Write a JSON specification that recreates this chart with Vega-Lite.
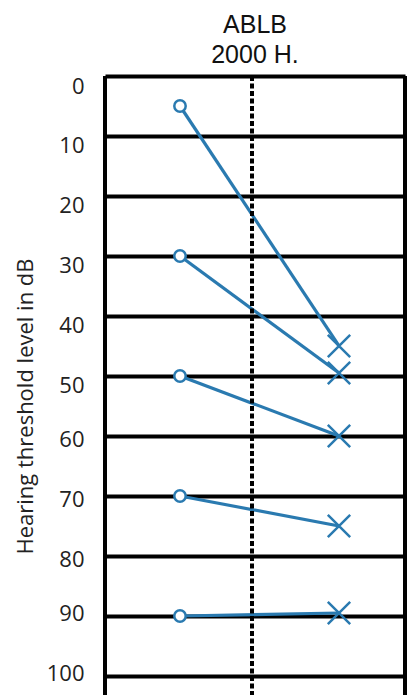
{
  "$schema": "https://vega.github.io/schema/vega-lite/v6.json",
  "width": 300,
  "height": 619,
  "autosize": {"type": "none"},
  "padding": {"left": 105, "top": 76, "right": 4, "bottom": 0},
  "background": "white",
  "title": {
    "text": ["ABLB", "2000 H."],
    "fontSize": 25,
    "fontWeight": "normal",
    "font": "Liberation Sans",
    "color": "#111",
    "lineHeight": 30,
    "offset": 6,
    "anchor": "middle"
  },
  "config": {"view": {"stroke": null}},
  "datasets": {
    "pts": [
      {"pair": 1, "ear": "left", "side": 0.25, "dB": 5},
      {"pair": 1, "ear": "right", "side": 0.78, "dB": 45},
      {"pair": 2, "ear": "left", "side": 0.25, "dB": 30},
      {"pair": 2, "ear": "right", "side": 0.78, "dB": 49.5},
      {"pair": 3, "ear": "left", "side": 0.25, "dB": 50},
      {"pair": 3, "ear": "right", "side": 0.78, "dB": 60},
      {"pair": 4, "ear": "left", "side": 0.25, "dB": 70},
      {"pair": 4, "ear": "right", "side": 0.78, "dB": 75},
      {"pair": 5, "ear": "left", "side": 0.25, "dB": 90},
      {"pair": 5, "ear": "right", "side": 0.78, "dB": 89.5}
    ],
    "borders": [{"b": 0}, {"b": 1}],
    "mid": [{"m": 0.49}]
  },
  "layer": [
    {
      "data": {"name": "pts"},
      "mark": {"type": "line", "color": "#2a7ab0", "strokeWidth": 3.2},
      "encoding": {
        "x": {"field": "side", "type": "quantitative", "scale": {"domain": [0, 1], "nice": false, "zero": false}, "axis": null},
        "y": {
          "field": "dB",
          "type": "quantitative",
          "scale": {"domain": [0, 103.17], "reverse": true, "nice": false, "zero": false},
          "axis": {
            "values": [0, 10, 20, 30, 40, 50, 60, 70, 80, 90, 100],
            "grid": true,
            "gridColor": "#000",
            "gridWidth": 4,
            "gridOpacity": 1,
            "domain": false,
            "ticks": false,
            "labelPadding": 21,
            "labelFont": "Open Sans",
            "labelFontSize": 22,
            "labelColor": "#222",
            "labelOffset": {"condition": [{"test": "datum.value <= 50", "value": 10}, {"test": "datum.value >= 90", "value": -2}], "value": 4},
            "title": "Hearing threshold level in dB",
            "titleFont": "Open Sans",
            "titleFontSize": 22,
            "titleFontWeight": "normal",
            "titleColor": "#222",
            "titlePadding": 9,
            "titleY": 330
          }
        },
        "detail": {"field": "pair", "type": "nominal"}
      }
    },
    {
      "data": {"name": "mid"},
      "mark": {"type": "rule", "color": "#000", "strokeWidth": 4, "strokeDash": [5, 2.5]},
      "encoding": {"x": {"field": "m", "type": "quantitative"}}
    },
    {
      "data": {"name": "borders"},
      "mark": {"type": "rule", "color": "#000", "strokeWidth": 4},
      "encoding": {"x": {"field": "b", "type": "quantitative"}}
    },
    {
      "data": {"name": "pts"},
      "transform": [{"filter": "datum.ear === 'left'"}],
      "mark": {"type": "point", "shape": "circle", "filled": true, "fill": "white", "stroke": "#2a7ab0", "strokeWidth": 2.5, "size": 130, "opacity": 1},
      "encoding": {
        "x": {"field": "side", "type": "quantitative"},
        "y": {"field": "dB", "type": "quantitative"}
      }
    },
    {
      "data": {"name": "pts"},
      "transform": [{"filter": "datum.ear === 'right'"}],
      "mark": {"type": "point", "shape": "M-1,-1L1,1M-1,1L1,-1", "filled": false, "stroke": "#2a7ab0", "strokeWidth": 2.5, "size": 500, "opacity": 1},
      "encoding": {
        "x": {"field": "side", "type": "quantitative"},
        "y": {"field": "dB", "type": "quantitative"}
      }
    }
  ]
}
